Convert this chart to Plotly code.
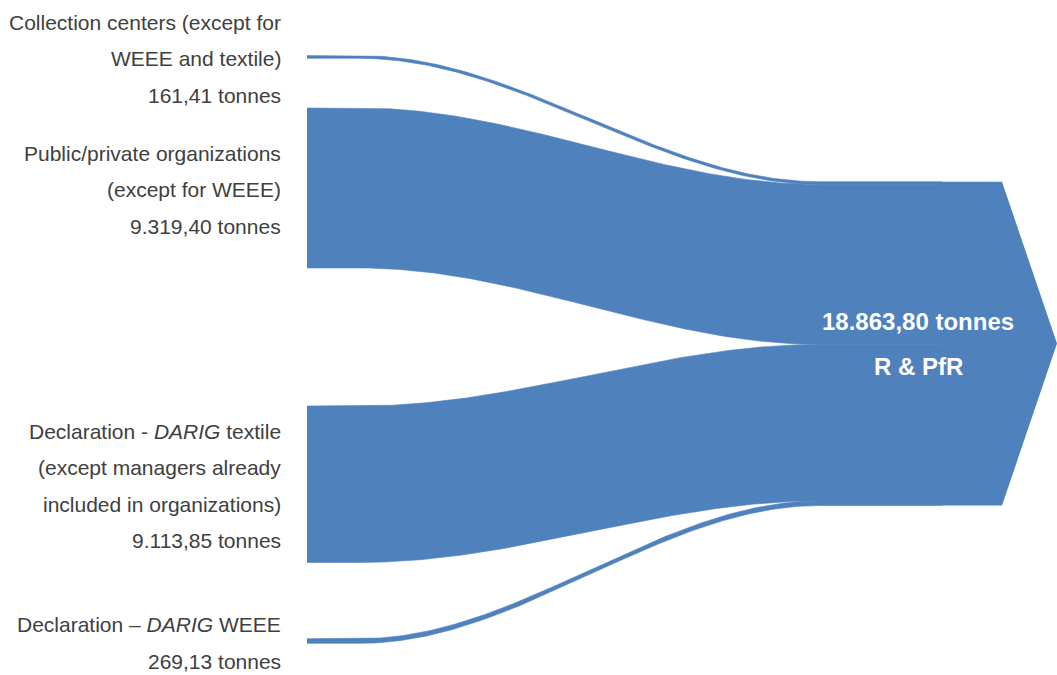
import numpy as np
import plotly.graph_objects as go

# ---------------- data ----------------
source_labels = [
    ["Collection centers (except for", "WEEE and textile)"],
    ["Public/private organizations", "(except for WEEE)"],
    ["Declaration - <i>DARIG</i> textile", "(except managers already", "included in organizations)"],
    ["Declaration – <i>DARIG</i> WEEE"],
]
source_values = [161.41, 9319.40, 9113.85, 269.13]          # tonnes
source_value_text = ["161,41 tonnes", "9.319,40 tonnes", "9.113,85 tonnes", "269,13 tonnes"]
target_total = 18863.80
target_labels = ["18.863,80 tonnes", "R & PfR"]

# ---------------- layout constants (positions / styles) ----------------
W, H = 1057, 675
Y_MAX = 39325            # tonnes visible on the vertical axis (top = 0)
SOURCE_TOPS = [3239, 6292, 23653, 37210]   # vertical placement of source nodes (axis units)
TARGET_TOP = 10586
X_SRC, X_C0, X_C1, X_NODE, X_NODE_END, X_TIP = 307, 360, 820, 942, 1002, 1057
BEZ_A = 0.35
LINE_SP = 2127           # label line spacing (axis units)
LABEL_SHIFT = 117
BLUE = "#4F81BD"
TEXT = "#404040"
FONT = "Liberation Sans, Arial, sans-serif"


def band_edge(y0, y1, n=160):
    t = np.linspace(0, 1, n)
    bx = 3 * BEZ_A * t * (1 - t) ** 2 + 3 * (1 - BEZ_A) * t ** 2 * (1 - t) + t ** 3
    by = 3 * t ** 2 - 2 * t ** 3
    xs = np.concatenate([[X_SRC], X_C0 + (X_C1 - X_C0) * bx, [X_NODE]])
    ys = np.concatenate([[y0], y0 + (y1 - y0) * by, [y1]])
    return xs, ys


fig = go.Figure()

cum = TARGET_TOP
for top, val in zip(SOURCE_TOPS, source_values):
    xt, yt = band_edge(top, cum)
    xb, yb = band_edge(top + val, cum + val)
    fig.add_trace(go.Scatter(
        x=np.concatenate([xt, xb[::-1]]), y=np.concatenate([yt, yb[::-1]]),
        fill="toself", fillcolor=BLUE, mode="lines",
        line=dict(color=BLUE, width=0.6), hoverinfo="skip", showlegend=False))
    cum += val

# target node (arrow)
t_top, t_bot = TARGET_TOP, TARGET_TOP + target_total
t_mid = (t_top + t_bot) / 2
fig.add_trace(go.Scatter(
    x=[X_NODE, X_NODE_END, X_TIP, X_NODE_END, X_NODE, X_NODE],
    y=[t_top, t_top, t_mid, t_bot, t_bot, t_top],
    fill="toself", fillcolor=BLUE, mode="lines", line=dict(color=BLUE, width=0),
    hoverinfo="skip", showlegend=False))

# source labels
annotations = []
for top, val, lines, vt in zip(SOURCE_TOPS, source_values, source_labels, source_value_text):
    all_lines = lines + [vt]
    n = len(all_lines)
    center = top + val / 2 + LABEL_SHIFT
    for i, txt in enumerate(all_lines):
        annotations.append(dict(
            x=283, y=center + (i - (n - 1) / 2) * LINE_SP, xref="x", yref="y",
            text=txt, showarrow=False, xanchor="right", yanchor="middle",
            font=dict(family=FONT, size=21, color=TEXT)))

for i, txt in enumerate(target_labels):
    annotations.append(dict(
        x=918, y=t_mid + (i - 0.5) * 2620, xref="x", yref="y",
        text="<b>" + txt + "</b>", showarrow=False, xanchor="center", yanchor="middle",
        font=dict(family=FONT, size=24, color="white")))

fig.update_layout(
    width=W, height=H, margin=dict(l=0, r=0, t=0, b=0),
    paper_bgcolor="white", plot_bgcolor="white",
    xaxis=dict(range=[0, W], visible=False, fixedrange=True),
    yaxis=dict(range=[Y_MAX, 0], visible=False, fixedrange=True),
    annotations=annotations, showlegend=False,
)

fig.write_html("out.html")
